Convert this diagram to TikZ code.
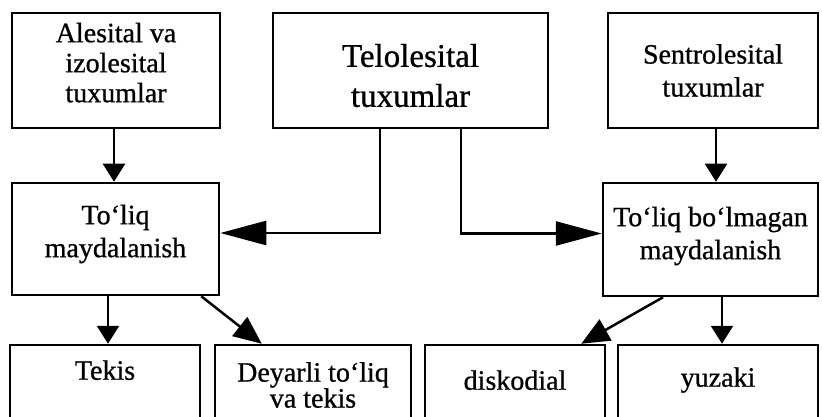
\documentclass[tikz,border=0pt]{standalone}
\usepackage{fontspec}
\setmainfont{Liberation Serif}
\newfontfamily\scanfont{Liberation Serif}[FakeBold=0.8]
\usetikzlibrary{arrows.meta}

\begin{document}
\begin{tikzpicture}[x=1pt,y=-1pt,line join=miter,
    box/.style={draw,line width=2.5pt,align=center,inner sep=0pt,
      font=\scanfont\fontsize{28}{33}\selectfont},
    arr/.style={line width=2.5pt,-{Triangle[length=18pt,width=22pt]}},
    bigarr/.style={line width=2.5pt,-{Triangle[length=46pt,width=24pt]}},
    diagarr/.style={line width=2.5pt,-{Triangle[length=28pt,width=24pt]}}]
  \clip (0,0) rectangle (822,417);
  % yuqori qator
  \node[box,minimum width=208pt,minimum height=115pt,text depth=16pt,
    font=\scanfont\fontsize{28}{30}\selectfont] (A) at (116,70.5) {Alesital va\\izolesital\\tuxumlar};
  \node[box,minimum width=275pt,minimum height=115pt,text height=73pt,
    font=\scanfont\fontsize{33}{40}\selectfont] (T) at (410.5,70.5) {Telolesital\\tuxumlar};
  \node[box,minimum width=210pt,minimum height=115pt] (S) at (713,70.5) {Sentrolesital\\tuxumlar};
  % o'rta qator
  \node[box,minimum width=207pt,minimum height=112pt,text depth=16pt] (M1) at (115.5,239) {To‘liq\\maydalanish};
  \node[box,minimum width=215pt,minimum height=113pt,text depth=13pt] (M2) at (710.5,239.5) {To‘liq bo‘lmagan\\maydalanish};
  % pastki qator
  \node[box,minimum width=190pt,minimum height=80pt,text depth=30pt] (B1) at (105,385) {Tekis};
  \node[box,minimum width=196pt,minimum height=80pt,
    font=\scanfont\fontsize{28}{26}\selectfont] (B2) at (313,385) {Deyarli to‘liq\\va tekis};
  \node[box,minimum width=180pt,minimum height=80pt,text depth=10pt] (B3) at (515,385) {diskodial};
  \node[box,minimum width=200pt,minimum height=80pt,text depth=16pt] (B4) at (718,385) {yuzaki};
  % strelkalar
  \draw[arr] ([xshift=-2pt]A.south) -- ([xshift=-2pt]A.south |- M1.north);
  \draw[arr] ([xshift=3pt]S.south) -- ([xshift=3pt]S.south |- M2.north);
  \draw[bigarr] ([xshift=-30.5pt]T.south) |- ([yshift=6pt]M1.east);
  \draw[bigarr] ([xshift=50.5pt]T.south) |- ([yshift=6pt]M2.west);
  \draw[arr] ([xshift=-7.5pt]M1.south) -- ([xshift=-7.5pt]M1.south |- B1.north);
  \draw[diagarr] ([xshift=-19pt]M1.south east) -- ([xshift=48pt]B2.north west);
  \draw[diagarr] ([xshift=-47.5pt]M2.south) -- ([xshift=-25pt]B3.north east);
  \draw[arr] ([xshift=11.5pt]M2.south) -- ([xshift=11.5pt]M2.south |- B4.north);
\end{tikzpicture}
\end{document}
